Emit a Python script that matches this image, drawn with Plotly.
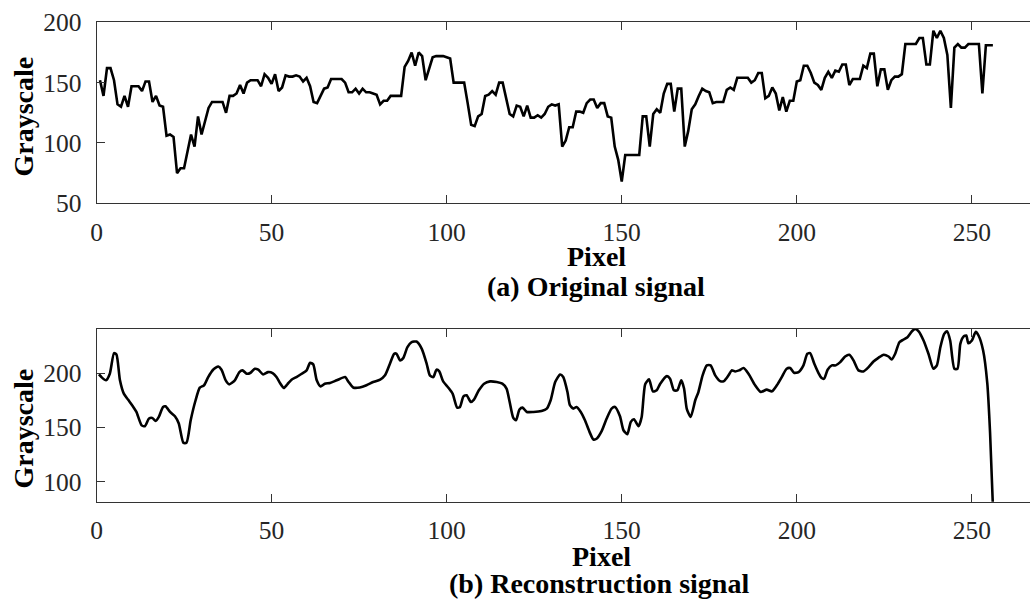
import plotly.graph_objects as go

# ---- (a) original grayscale profile, one value per pixel (1..256) ----
orig_pixel = list(range(1, 257))
orig_gray = [
    152, 139, 162, 162, 152, 132, 130, 139, 130, 147,
    147, 147, 143, 151, 151, 134, 139, 131, 130, 106,
    107, 105, 75, 79, 79, 92, 107, 97, 122, 107,
    118, 129, 134, 134, 134, 134, 125, 139, 139, 141,
    148, 141, 150, 152, 152, 152, 147, 157, 154, 149,
    157, 143, 146, 156, 155, 155, 156, 155, 151, 154,
    147, 134, 133, 139, 145, 146, 153, 153, 153, 153,
    150, 142, 142, 145, 141, 145, 142, 142, 141, 140,
    132, 135, 135, 139, 139, 139, 139, 163, 168, 175,
    164, 175, 172, 152, 161, 171, 172, 172, 172, 171,
    170, 150, 150, 150, 150, 133, 115, 114, 122, 124,
    139, 140, 143, 140, 150, 150, 137, 124, 122, 131,
    130, 122, 131, 121, 121, 123, 121, 124, 130, 132,
    131, 132, 97, 102, 113, 113, 126, 126, 125, 133,
    136, 136, 129, 133, 133, 122, 121, 97, 86, 68,
    90, 90, 90, 90, 90, 122, 122, 97, 124, 128,
    125, 141, 149, 149, 126, 145, 145, 97, 110, 128,
    132, 139, 145, 143, 142, 133, 134, 134, 134, 144,
    146, 144, 154, 154, 154, 154, 150, 152, 158, 158,
    137, 139, 146, 141, 127, 138, 126, 135, 135, 151,
    152, 164, 164, 158, 150, 148, 144, 154, 159, 154,
    160, 159, 165, 165, 148, 153, 153, 153, 164, 162,
    174, 174, 147, 161, 161, 144, 152, 155, 155, 157,
    182, 182, 182, 182, 187, 187, 165, 165, 193, 187,
    193, 187, 173, 129, 179, 182, 179, 179, 182, 182,
    182, 182, 141, 181, 181, 181,
]

# ---- (b) reconstructed profile, sampled at its turning points ----
rec_pixel = [
    0.7, 1.4, 2.7, 3.8, 5.0, 5.7, 6.7, 7.8, 9.0, 10.5, 11.4, 12.9, 13.8, 15.0,
    15.9, 16.9, 17.8, 19.0, 19.7, 21.0, 22.4, 23.5, 24.8, 25.7, 26.9, 28.3,
    29.5, 30.7, 31.9, 33.3, 34.8, 35.7, 36.9, 37.9, 39.5, 40.8, 41.7, 42.9,
    44.0, 45.2, 46.2, 47.6, 49.0, 50.3, 51.4, 52.4, 53.5, 54.5, 55.7, 57.1,
    58.6, 60.0, 61.0, 61.9, 62.9, 64.0, 65.2, 66.7, 68.6, 71.0, 71.9, 73.3,
    75.2, 77.1, 79.0, 81.0, 82.4, 83.8, 85.0, 85.7, 86.7, 87.6, 88.8, 90.0,
    91.4, 92.9, 94.3, 95.2, 96.2, 97.1, 97.9, 99.0, 100.5, 101.7, 103.0,
    103.8, 104.8, 105.7, 106.9, 107.8, 109.2, 110.7, 112.4, 114.3, 115.9,
    117.1, 118.0, 119.0, 119.8, 120.8, 121.7, 122.9, 124.8, 127.1, 128.6,
    129.7, 131.0, 132.4, 133.3, 134.5, 135.2, 136.2, 137.1, 138.3, 139.5,
    140.8, 141.9, 142.9, 144.3, 145.7, 147.1, 148.1, 149.5, 150.5, 151.6,
    152.6, 153.5, 154.8, 155.7, 156.7, 157.8, 158.9, 160.0, 161.0, 162.9,
    163.8, 164.9, 165.9, 167.0, 167.8, 168.6, 169.7, 171.0, 171.9, 173.1,
    174.3, 175.4, 176.7, 178.1, 179.2, 180.5, 181.4, 182.4, 183.5, 184.8,
    186.2, 188.1, 189.7, 191.4, 192.9, 194.3, 195.7, 197.1, 198.1, 199.2,
    200.5, 201.9, 203.0, 203.8, 205.0, 206.2, 207.1, 207.8, 208.8, 210.0,
    211.1, 212.4, 213.8, 215.0, 216.2, 217.6, 219.0, 220.5, 221.9, 223.3,
    224.8, 226.2, 227.1, 228.1, 229.3, 230.5, 231.6, 232.9, 233.8, 234.8,
    236.2, 237.6, 239.0, 240.0, 241.0, 242.1, 242.9, 243.8, 245.0, 245.9,
    246.7, 247.6, 248.4, 249.0, 250.0, 251.1, 251.9, 253.2, 254.4, 255.2,
    256.0,
]
rec_gray = [
    199, 196.6, 193.6, 199.7, 218.7, 217.5, 193.6, 181.3, 175.8, 169, 164.4,
    152, 151.2, 158.3, 158.9, 156.1, 159.8, 169, 169.6, 164.4, 160.4, 153.7,
    135.9, 135.9, 156.7, 175.2, 186.8, 189, 196.6, 203.4, 206.4, 203.4, 193.6,
    189.9, 193.6, 201.2, 202.8, 199.7, 200.6, 204.3, 203.4, 199, 201.2, 200.3,
    196.6, 191.1, 186.5, 189.9, 194.2, 196.6, 199.7, 202.8, 209.8, 208.3,
    193.6, 188, 190.5, 191.1, 193.6, 196.6, 192.5, 187, 187, 189, 192, 194.2,
    198.2, 208.9, 218.1, 218.1, 212, 214.1, 224.2, 228.8, 229.4, 222.7, 208.9,
    198.2, 196.6, 203.4, 201.8, 192.6, 186.8, 181.3, 168.4, 169, 178.8, 179.8,
    173.6, 175.8, 184.4, 190.5, 192.6, 192, 190.5, 185.9, 173.6, 159.2, 156.7,
    166.6, 168.4, 164.4, 164.4, 165.3, 167.5, 175.2, 192, 199, 196.6, 182.8,
    170.6, 167.5, 169, 164.4, 156.7, 146, 139, 139.9, 146.9, 158.3, 167.5,
    169, 160.4, 147.5, 143.9, 155.2, 157.7, 151.2, 159.8, 189.9, 194.5, 183.4,
    184.4, 190.5, 197.5, 195.1, 184.4, 184.4, 193.6, 186, 167, 159.8, 175.2,
    182.8, 198.2, 207.4, 207.4, 198.2, 192.9, 192.9, 198.2, 202.8, 201.8,
    202.8, 204.9, 199.7, 189, 182.8, 185, 183.4, 189, 196.6, 204.3, 204.9,
    200.6, 201.2, 207.4, 218.1, 218.7, 208.9, 200.3, 195.7, 195.1, 203.4,
    207.4, 207.4, 210.4, 215.6, 217.2, 212, 202.8, 201.8, 205.8, 211, 214.4,
    217.2, 215.6, 212.9, 218.1, 228.8, 231.3, 233.4, 238.9, 241, 238.9,
    230.4, 218.1, 204.3, 207.4, 224.2, 236.5, 238.9, 230.4, 204.3, 204.3,
    227.3, 234, 235, 227.8, 230.4, 238.4, 235, 221.4, 191, 145,
    78,
]

x_ticks = [0, 50, 100, 150, 200, 250]

W, H = 1030, 601
FONT = "Liberation Serif"
AXIS_COL = "#333333"
TEXT_COL = "#262626"


def px_x(p):
    return p / W


def px_y(p):
    return 1 - p / H


fig = go.Figure()
fig.add_trace(go.Scatter(x=orig_pixel, y=orig_gray, mode="lines",
                         line=dict(color="black", width=2.6),
                         xaxis="x", yaxis="y", showlegend=False))
fig.add_trace(go.Scatter(x=rec_pixel, y=rec_gray, mode="lines",
                         line=dict(color="black", width=2.6, shape="spline",
                                   smoothing=0.6),
                         xaxis="x2", yaxis="y2", showlegend=False))

tick_font = dict(family=FONT, size=25.5, color=TEXT_COL)
x_common = dict(
    domain=[px_x(96.5), 1.0], range=[0, 266.6], tickvals=x_ticks,
    ticks="inside", ticklen=8, tickcolor=AXIS_COL, tickwidth=1,
    showline=True, linecolor=AXIS_COL, linewidth=1, mirror="ticks",
    showgrid=False, zeroline=False, automargin=False,
    tickfont=tick_font, ticklabelstandoff=6,
)
y_common = dict(
    ticks="inside", ticklen=8, tickcolor=AXIS_COL, tickwidth=1,
    showline=True, linecolor=AXIS_COL, linewidth=1,
    showgrid=False, zeroline=False, automargin=False,
    tickfont=tick_font, ticklabelstandoff=9,
)

fig.update_layout(
    template="none",
    width=W, height=H,
    margin=dict(l=0, r=0, t=0, b=0, pad=0, autoexpand=False),
    paper_bgcolor="white", plot_bgcolor="white",
    xaxis=dict(**x_common, anchor="y"),
    yaxis=dict(**y_common, domain=[px_y(203.3), px_y(22.3)],
               range=[50, 200], tickvals=[50, 100, 150, 200], anchor="x"),
    xaxis2=dict(**x_common, anchor="y2"),
    yaxis2=dict(**y_common, domain=[px_y(501.7), px_y(329)],
                range=[81.5, 241], tickvals=[100, 150, 200], anchor="x2"),
)

bold = dict(family=FONT, size=28, color="black")
labels = [
    ("<b>Grayscale</b>", 22.5, 117, -90),
    ("<b>Grayscale</b>", 22.5, 429, -90),
    ("<b>Pixel</b>", 596, 256, 0),
    ("<b>(a) Original signal</b>", 596, 286, 0),
    ("<b>Pixel</b>", 601, 556, 0),
    ("<b>(b) Reconstruction signal</b>", 599, 583, 0),
]
for text, x, y, ang in labels:
    fig.add_annotation(text=text, x=px_x(x), y=px_y(y), xref="paper",
                       yref="paper", showarrow=False, textangle=ang,
                       xanchor="center", yanchor="middle", font=bold)

fig.write_html("out.html")
